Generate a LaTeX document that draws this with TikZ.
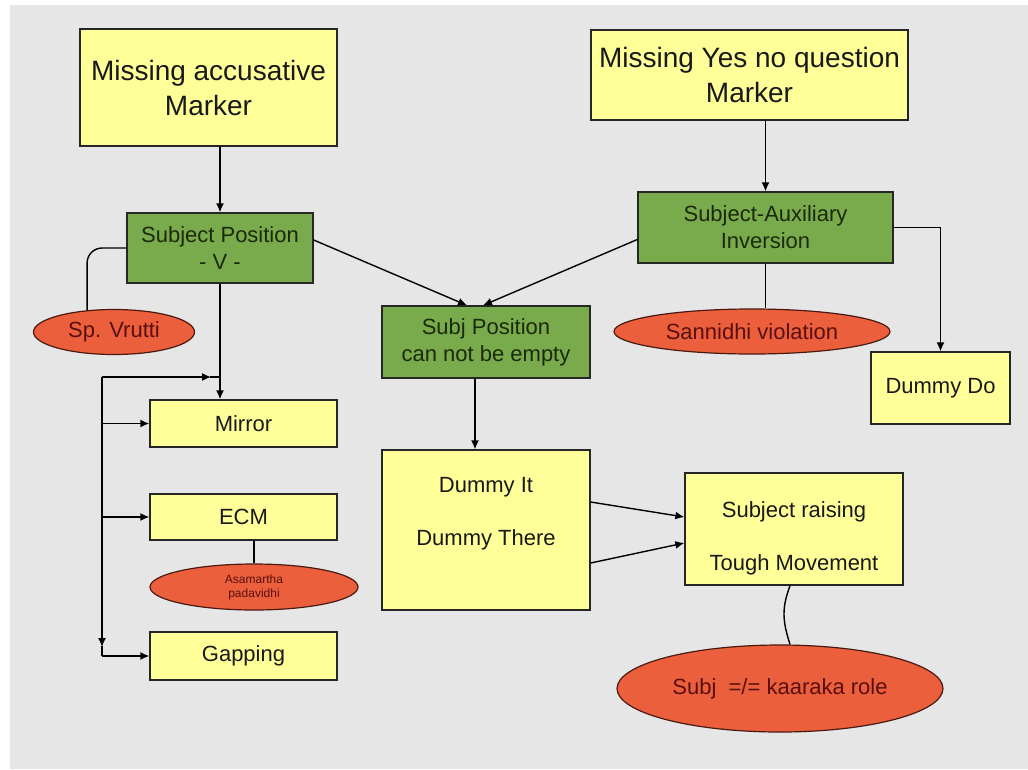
\documentclass[tikz,border=0pt]{standalone}
\usepackage{fontspec}
\setmainfont{Liberation Sans}
\usetikzlibrary{arrows.meta,shapes.geometric,calc}
\definecolor{bg}{HTML}{E6E6E6}
\definecolor{yel}{HTML}{FFFF99}
\definecolor{grn}{HTML}{79AA4C}
\definecolor{ored}{HTML}{EB5F3C}
\definecolor{oline}{HTML}{4A1A10}
\definecolor{otext}{HTML}{5A0F0F}
\definecolor{gtext}{HTML}{1A2A0A}
\begin{document}
\begin{tikzpicture}[x=1pt,y=-1pt,
  ybox/.style={rectangle, draw=black!85, line width=1.3pt, fill=yel, align=center,
    inner sep=0pt, text=black!90, font=\fontsize{22}{27}\selectfont},
  gbox/.style={ybox, fill=grn, text=gtext},
  bigbox/.style={ybox, font=\fontsize{28}{35}\selectfont},
  txt/.style={align=center, inner sep=0pt, text=black!90, font=\fontsize{22}{27}\selectfont},
  oval/.style={ellipse, draw=oline, line width=1.2pt, fill=ored, inner sep=0pt,
    align=center, text=otext, font=\fontsize{22}{26}\selectfont},
  conn/.style={line width=1.4pt, black},
  arr/.style={conn, -{Latex[length=9pt,width=8pt]}}]
\useasboundingbox (0,0) rectangle (1028,769);
\fill[white] (0,0) rectangle (1028,769);
\fill[bg] (10,5) rectangle (1028,769);

% left column
\node[bigbox, minimum width=257pt, minimum height=117pt] (mam) at (208.5,87.5) {Missing accusative\\Marker};
\node[gbox, minimum width=186pt, minimum height=70pt] (sp) at (220,248) {Subject Position\\- V -};
\node[oval, minimum width=161pt, minimum height=45pt] (vr) at (114,332) {Sp. Vrutti};
\node[ybox, minimum width=187pt, minimum height=47pt] (mir) at (243.5,423.5) {Mirror};
\node[ybox, minimum width=187pt, minimum height=46pt] (ecm) at (243.5,517) {ECM};
\node[oval, minimum width=208pt, minimum height=46pt, font=\fontsize{12}{14}\selectfont] (asa) at (254,587) {Asamartha\\padavidhi};
\node[ybox, minimum width=187pt, minimum height=48pt] (gap) at (243.5,656) {Gapping};

% right column
\node[bigbox, minimum width=317pt, minimum height=90pt] (myq) at (749.5,75) {Missing Yes no question\\Marker};
\node[gbox, minimum width=255pt, minimum height=71pt] (sai) at (765.5,227.5) {Subject-Auxiliary\\Inversion};
\node[oval, minimum width=276pt, minimum height=45pt] (san) at (752,331.5) {Sannidhi violation};
\node[ybox, minimum width=139pt, minimum height=72pt] (ddo) at (940.5,388) {Dummy Do};

% middle
\node[gbox, minimum width=208pt, minimum height=72pt] (spe) at (486,342) {Subj Position\\can not be empty};
\node[ybox, minimum width=208pt, minimum height=160pt] (dit) at (486,530) {};
\node[txt] (ditl) at ([yshift=16pt]dit.center) {Dummy It\\[26pt]Dummy There};
\node[ybox, minimum width=218pt, minimum height=112pt] (srt) at (794,529) {};
\node[txt] (srtl) at ([yshift=-9pt]srt.center) {Subject raising\\[26pt]Tough Movement};
\node[oval, minimum width=326pt, minimum height=87pt] (kr) at (780,688.5) {Subj\ \ =/= kaaraka role};

% connectors
\draw[arr] (mam.south -| sp.north) -- (sp.north);
\draw[conn, rounded corners=15pt] (sp.west) -| (vr.141);
\draw[arr] (sp.south) -- (sp.south |- mir.north);
\coordinate (bt) at (sp.south |- 0,377);
\coordinate (bl) at (102,377);
\coordinate (bb) at (bl |- gap.west);
\draw[arr] (bl) -- ([xshift=-9pt]bt);
\draw[conn] ([xshift=-10pt]bt) -- (bt);
\draw[arr] (bl) -- ([yshift=9pt]bb);
\draw[conn] ([yshift=10pt]bb) -- (bb);
\draw[arr] (bl |- mir.west) -- (mir.west);
\draw[arr] (bl |- ecm.west) -- (ecm.west);
\draw[arr] (bb) -- (gap.west);
\draw[conn] (ecm.south -| asa.north) -- (asa.north);

\draw[arr] (myq.south -| sai.north) -- (sai.north);
\draw[conn] (sai.south) -- (sai.south |- san.north);
\draw[arr] (sai.east) -| (ddo.north);

\draw[arr] ([yshift=8pt]sp.east) -- ([xshift=-19pt]spe.north);
\draw[arr] ([yshift=-12pt]sai.west) -- ([xshift=-3pt]spe.north);
\draw[arr] ([xshift=-11pt]spe.south) -- ([xshift=-11pt]dit.north);

\draw[arr] ([yshift=28pt]dit.east) -- ([yshift=12pt]srt.west);
\draw[arr] ([yshift=-33pt]dit.east) -- ([yshift=-14pt]srt.west);
\draw[conn] ([xshift=-4pt]srt.south) .. controls +(-8,22) and +(-8,-25) .. ([xshift=10pt]kr.north);
\end{tikzpicture}
\end{document}
